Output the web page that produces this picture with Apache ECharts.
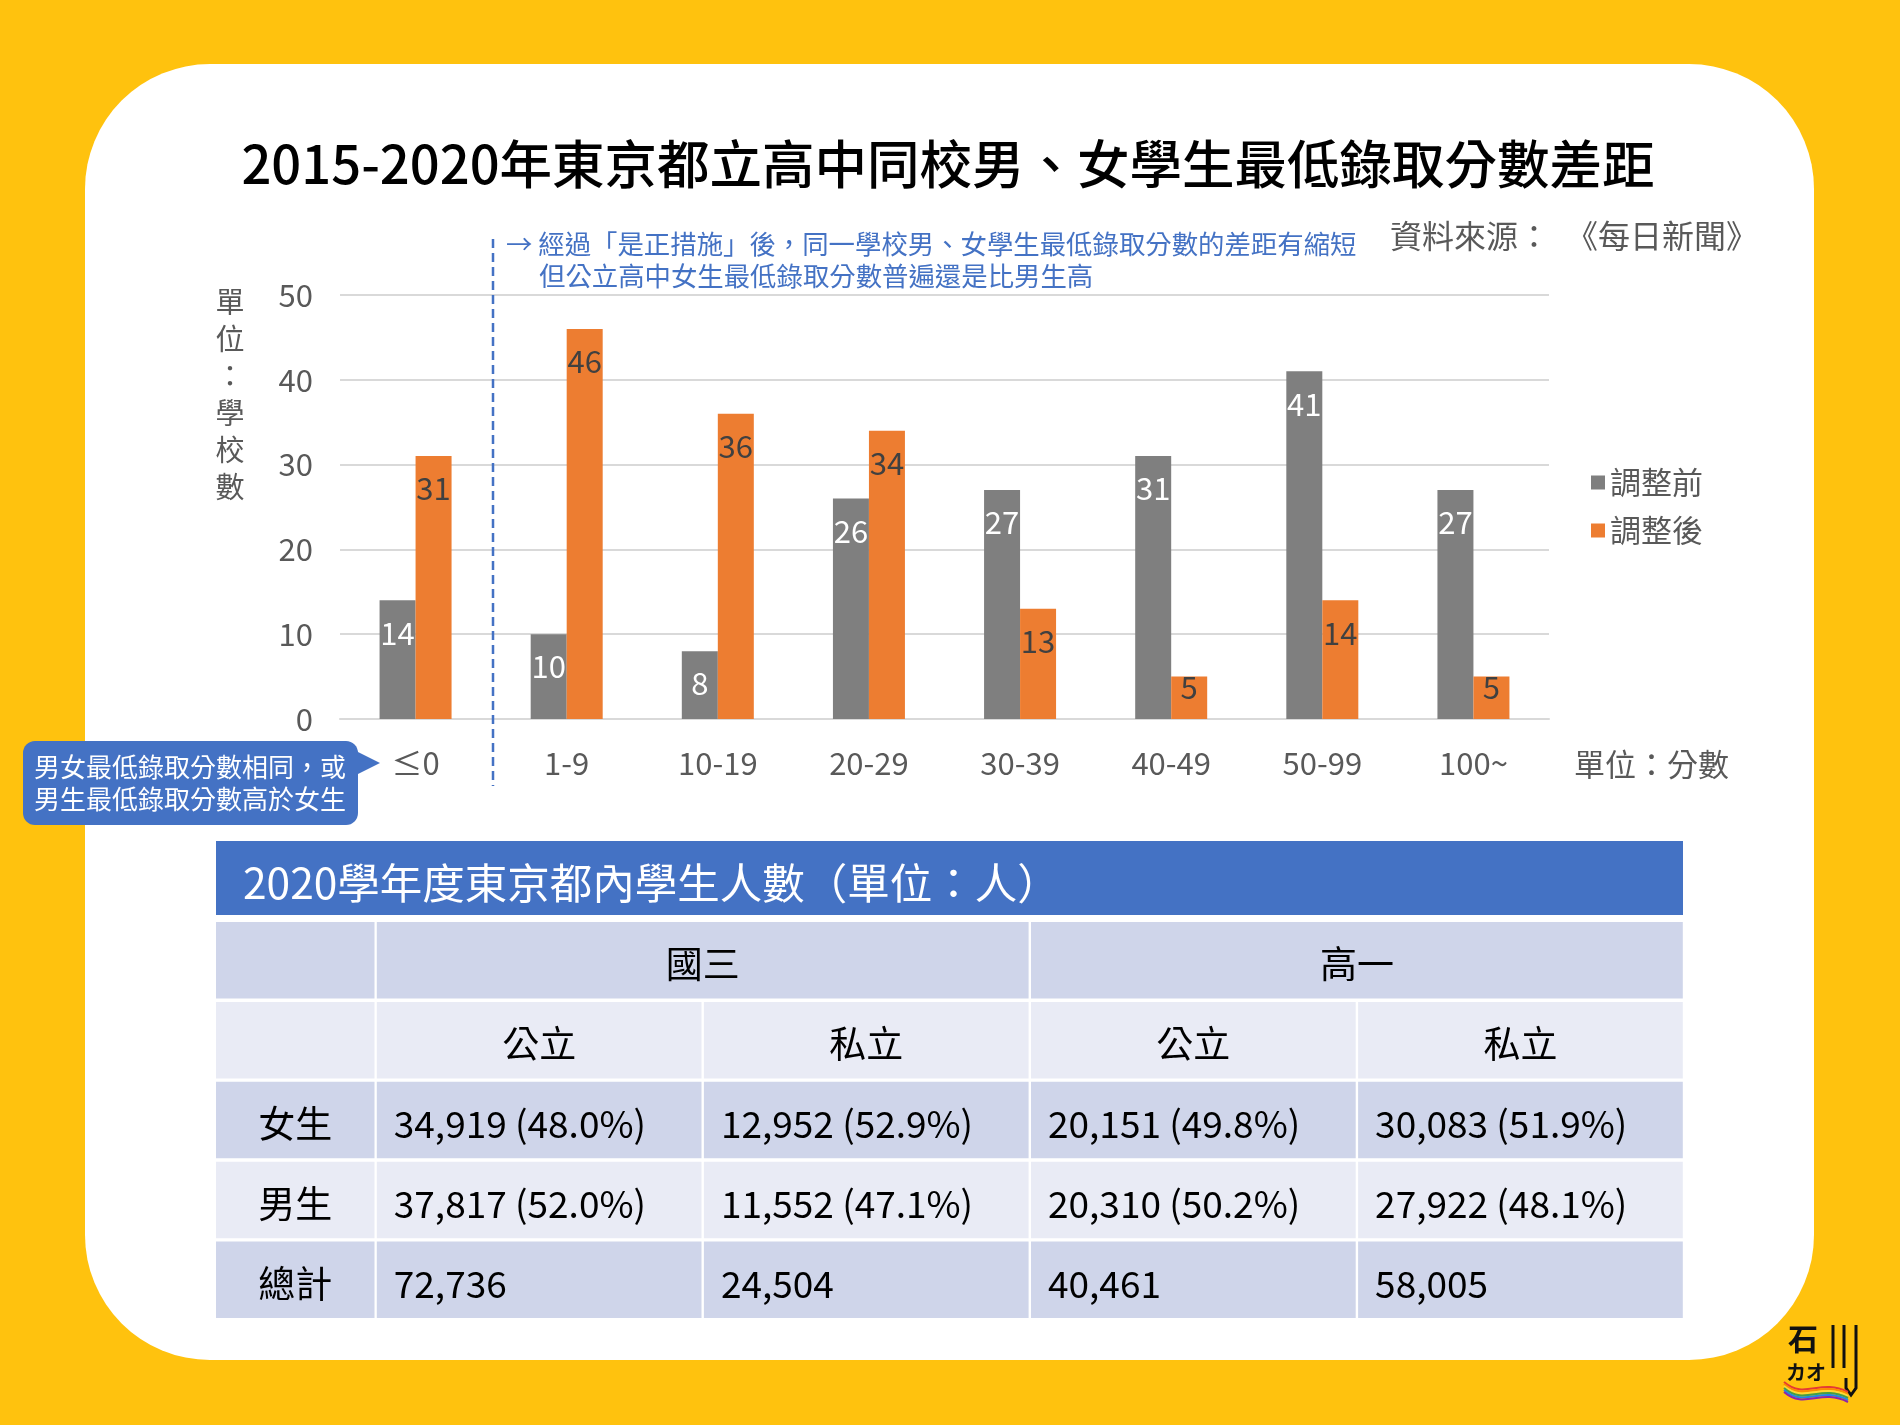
<!DOCTYPE html>
<html><head><meta charset="utf-8">
<script src="https://cdn.jsdelivr.net/npm/echarts@6/dist/echarts.min.js"></script>
<style>html,body{margin:0;padding:0;background:#FFC20E;}#c{width:1900px;height:1425px;}</style>
</head><body><div id="c"></div>
<script>
// ---------- data ----------
const categories = ['≤0', '1-9', '10-19', '20-29', '30-39', '40-49', '50-99', '100~'];
const beforeValues = [14, 10, 8, 26, 27, 31, 41, 27];
const afterValues = [31, 46, 36, 34, 13, 5, 14, 5];
const seriesNames = ['調整前', '調整後'];
const yMin = 0, yMax = 50, yInterval = 10;

const chartTitle = '2015-2020年東京都立高中同校男、女學生最低錄取分數差距';
const sourceText = '資料來源：　《每日新聞》';
const noteLines = ['→ 經過「是正措施」後，同一學校男、女學生最低錄取分數的差距有縮短', '但公立高中女生最低錄取分數普遍還是比男生高'];
const calloutLines = ['男女最低錄取分數相同，或', '男生最低錄取分數高於女生'];
const yAxisTitle = '單位：學校數';
const xAxisTitle = '單位：分數';

const tableTitle = '2020學年度東京都內學生人數（單位：人）';
const gradeGroups = ['國三', '高一'];
const schoolTypes = ['公立', '私立', '公立', '私立'];
const rowLabels = ['女生', '男生', '總計'];
const femaleCounts = [34919, 12952, 20151, 30083];
const femalePct = [48.0, 52.9, 49.8, 51.9];
const maleCounts = [37817, 11552, 20310, 27922];
const malePct = [52.0, 47.1, 50.2, 48.1];
const totalCounts = [72736, 24504, 40461, 58005];

// ---------- layout / style ----------
const FONT = '"Noto Sans CJK TC", "Noto Sans CJK SC", "Noto Sans", sans-serif';
const GREY = '#7F7F7F', ORANGE = '#ED7D31', BLUE = '#4472C4', TXT = '#595959';
const DARK_ROW = '#CFD5EA', LIGHT_ROW = '#E9EBF5';

const fmt = n => n.toLocaleString('en-US');
const pct = p => p.toFixed(1) + '%';

function barData(vals) {
  return vals.map(v => ({ value: v, label: { distance: v <= 5 ? -5 : 17 } }));
}

function txt(text, x, y, size, fill, align, vAlign, weight, extra) {
  return Object.assign({
    type: 'text',
    style: {
      text: text, x: x, y: y, fill: fill,
      fontSize: size, fontFamily: FONT, fontWeight: weight || 'normal',
      align: align, textAlign: align, verticalAlign: vAlign, textVerticalAlign: vAlign
    }
  }, extra || {});
}

const graphics = [];
// card
graphics.push({ type: 'rect', z: -10, shape: { x: 85, y: 64, width: 1729, height: 1296, r: 125 }, style: { fill: '#FFFFFF' } });
// title
graphics.push(txt(chartTitle, 948, 164, 52.5, '#000000', 'center', 'middle', 500));
// source
graphics.push(txt(sourceText, 1758, 236, 32, TXT, 'right', 'middle'));
// note
graphics.push(txt(noteLines[0], 506, 244, 26.4, BLUE, 'left', 'middle'));
graphics.push(txt(noteLines[1], 539, 276, 26.4, BLUE, 'left', 'middle'));
// dashed divider
graphics.push({ type: 'line', z: 5, shape: { x1: 493, y1: 239, x2: 493, y2: 786 }, style: { stroke: BLUE, lineWidth: 2.5, lineDash: [9, 5] } });
// y axis title (vertical)
graphics.push({ type: 'text', style: { text: yAxisTitle.split('').join('\n'), x: 230, y: 283, fill: TXT, fontSize: 29, fontFamily: FONT, lineHeight: 37, align: 'center', textAlign: 'center', verticalAlign: 'top', textVerticalAlign: 'top' } });
// x axis unit
graphics.push(txt(xAxisTitle, 1574, 764, 31, TXT, 'left', 'middle'));
// callout
graphics.push({ type: 'rect', z: 6, shape: { x: 23, y: 741, width: 335, height: 84, r: 12 }, style: { fill: BLUE } });
graphics.push({ type: 'polygon', z: 6, shape: { points: [[356, 751], [380, 763], [356, 775]] }, style: { fill: BLUE } });
graphics.push(txt(calloutLines[0], 190, 767, 26, '#FFFFFF', 'center', 'middle', 'normal', { z: 7 }));
graphics.push(txt(calloutLines[1], 190, 799, 26, '#FFFFFF', 'center', 'middle', 'normal', { z: 7 }));

// ---------- table ----------
const tX = 216, tW = 1467;
graphics.push({ type: 'rect', shape: { x: tX, y: 841, width: tW, height: 74 }, style: { fill: BLUE } });
graphics.push(txt(tableTitle, 243, 883, 42.5, '#FFFFFF', 'left', 'middle'));
const col0W = 158.5, colStart = 376.8, colPitch = 327.1, colW = 324.7;
const rowTop = 922, rowPitch = 79.9, rowH = 76.5;
const TY = 4; // text baseline tweak
const colX = j => j === 0 ? tX : colStart + (j - 1) * colPitch;
const colWidth = j => j === 0 ? col0W : colW;
const rowY = i => rowTop + i * rowPitch;
const rowFill = i => (i % 2 === 0 ? DARK_ROW : LIGHT_ROW);
const TSIZE = 37;
// row 0: group header
graphics.push({ type: 'rect', shape: { x: colX(0), y: rowY(0), width: colWidth(0), height: rowH }, style: { fill: rowFill(0) } });
gradeGroups.forEach((g, k) => {
  const x0 = colX(1 + 2 * k), w = colPitch + colW;
  graphics.push({ type: 'rect', shape: { x: x0, y: rowY(0), width: w, height: rowH }, style: { fill: rowFill(0) } });
  graphics.push(txt(g, x0 + w / 2, rowY(0) + rowH / 2 + TY, TSIZE, '#000000', 'center', 'middle'));
});
// row 1: school types
graphics.push({ type: 'rect', shape: { x: colX(0), y: rowY(1), width: colWidth(0), height: rowH }, style: { fill: rowFill(1) } });
schoolTypes.forEach((s, j) => {
  const x0 = colX(j + 1);
  graphics.push({ type: 'rect', shape: { x: x0, y: rowY(1), width: colW, height: rowH }, style: { fill: rowFill(1) } });
  graphics.push(txt(s, x0 + colW / 2, rowY(1) + rowH / 2 + TY, TSIZE, '#000000', 'center', 'middle'));
});
// body rows
const bodyRows = [
  femaleCounts.map((c, j) => fmt(c) + ' (' + pct(femalePct[j]) + ')'),
  maleCounts.map((c, j) => fmt(c) + ' (' + pct(malePct[j]) + ')'),
  totalCounts.map(c => fmt(c))
];
bodyRows.forEach((cells, r) => {
  const i = r + 2;
  graphics.push({ type: 'rect', shape: { x: colX(0), y: rowY(i), width: colWidth(0), height: rowH }, style: { fill: rowFill(i) } });
  graphics.push(txt(rowLabels[r], colX(0) + col0W / 2, rowY(i) + rowH / 2 + TY, TSIZE, '#000000', 'center', 'middle'));
  cells.forEach((c, j) => {
    const x0 = colX(j + 1);
    graphics.push({ type: 'rect', shape: { x: x0, y: rowY(i), width: colW, height: rowH }, style: { fill: rowFill(i) } });
    graphics.push(txt(c, x0 + 17, rowY(i) + rowH / 2 + TY, TSIZE, '#000000', 'left', 'middle'));
  });
});

// ---------- logo (approximate) ----------
graphics.push(txt('石', 1803, 1339, 30, '#111111', 'center', 'middle', 'bold'));
graphics.push(txt('カオ', 1806, 1372, 20, '#111111', 'center', 'middle', 'bold'));
[1833, 1844].forEach(x => graphics.push({ type: 'line', shape: { x1: x, y1: 1325, x2: x, y2: 1368 }, style: { stroke: '#111111', lineWidth: 3 } }));
graphics.push({ type: 'polyline', shape: { points: [[1856, 1325], [1856, 1388], [1851, 1395], [1846, 1388], [1846, 1378]] }, style: { stroke: '#111111', lineWidth: 3, fill: null } });
['#E53935', '#FB8C00', '#FDD835', '#43A047', '#1E88E5', '#8E24AA'].forEach((c, k) => {
  graphics.push({ type: 'bezierCurve', shape: { x1: 1784, y1: 1382 + k * 2, cpx1: 1805, cpy1: 1400 + k * 2, cpx2: 1820, cpy2: 1378 + k * 2, x2: 1848, y2: 1392 + k * 2 }, style: { stroke: c, lineWidth: 2, fill: null } });
});

const chart = echarts.init(document.getElementById('c'), null, { renderer: 'canvas' });
chart.setOption({
  backgroundColor: '#FFC20E',
  animation: false,
  textStyle: { fontFamily: FONT },
  grid: { left: 340, top: 295, width: 1209, height: 424, containLabel: false },
  legend: {
    data: seriesNames, orient: 'vertical', left: 1586, top: 462,
    itemWidth: 14, itemHeight: 14, itemGap: 17, icon: 'rect',
    textStyle: { fontSize: 31, color: TXT, fontFamily: FONT }
  },
  xAxis: {
    type: 'category', data: categories,
    axisLine: { show: true, lineStyle: { color: '#D9D9D9', width: 2 } },
    axisTick: { show: false },
    axisLabel: { fontSize: 31, color: TXT, margin: 29, fontFamily: FONT }
  },
  yAxis: {
    type: 'value', min: yMin, max: yMax, interval: yInterval,
    axisLine: { show: false }, axisTick: { show: false },
    axisLabel: { fontSize: 31, color: TXT, margin: 27, fontFamily: FONT },
    splitLine: { lineStyle: { color: '#D9D9D9', width: 2 } }
  },
  series: [
    {
      name: seriesNames[0], type: 'bar', data: barData(beforeValues), barWidth: 36, barGap: '0%',
      itemStyle: { color: GREY },
      label: { show: true, position: 'insideTop', distance: 17, fontSize: 31, color: '#FFFFFF', fontFamily: FONT }
    },
    {
      name: seriesNames[1], type: 'bar', data: barData(afterValues), barWidth: 36, barGap: '0%',
      itemStyle: { color: ORANGE },
      label: { show: true, position: 'insideTop', distance: 17, fontSize: 31, color: '#404040', fontFamily: FONT }
    }
  ],
  graphic: graphics
});
</script>
</body></html>
